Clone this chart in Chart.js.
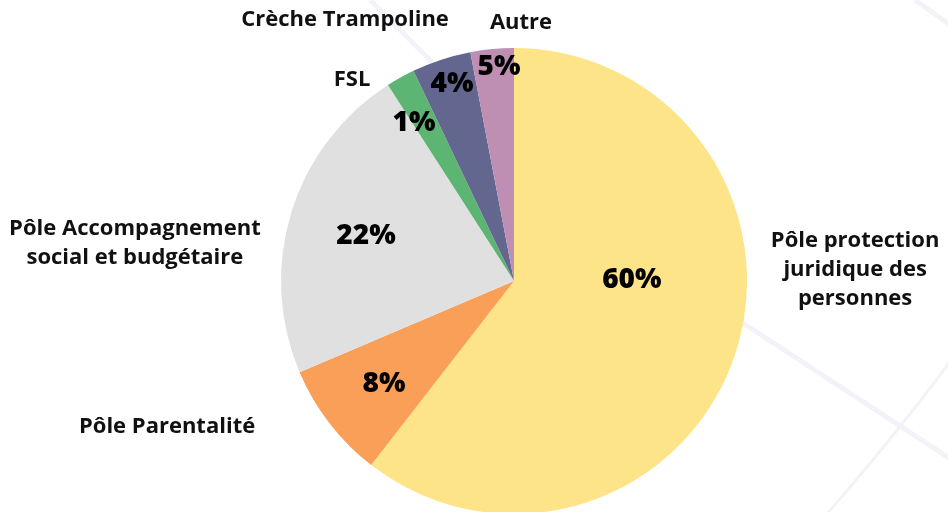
<!DOCTYPE html>
<html lang="fr">
<head>
<meta charset="utf-8">
<title>Répartition par pôle</title>
<script src="https://cdn.jsdelivr.net/npm/chart.js@4.4.1/dist/chart.umd.min.js"></script>
<style>
  html, body { margin: 0; padding: 0; background: #ffffff; }
  #wrap { width: 948px; height: 512px; position: relative; }
</style>
</head>
<body>
<div id="wrap"><canvas id="pie-chart" width="948" height="512"></canvas></div>
<script>
const categories = [
  ['Pôle protection', 'juridique des', 'personnes'],
  ['Pôle Parentalité'],
  ['Pôle Accompagnement', 'social et budgétaire'],
  ['FSL'],
  ['Crèche Trampoline'],
  ['Autre'],
];
// slice sizes (share of the circle, %)
const sliceValues = [60.5, 8.1, 22.3, 2.0, 4.1, 3.0];
// percentages printed on the slices
const percentLabels = ['60%', '8%', '22%', '1%', '4%', '5%'];
const sliceColors = ['#FDE488', '#F99F57', '#E0E0E0', '#5DB574', '#63668F', '#BF8FB3'];

// label anchors, in units of the pie radius from its centre
const outerLabelPos = [[1.464, -0.047], [-1.489, 0.627], [-1.627, -0.163], [-0.695, -0.863], [-0.725, -1.120], [0.030, -1.107]];
const innerLabelPos = [[0.506, -0.004], [-0.558, 0.442], [-0.635, -0.193], [-0.429, -0.678], [-0.266, -0.846], [-0.064, -0.918]];

const backgroundLines = {
  id: 'backgroundLines',
  beforeDraw(chart) {
    const { ctx } = chart;
    ctx.save();
    ctx.strokeStyle = '#F3F2F8';
    ctx.lineWidth = 5;
    ctx.beginPath();
    ctx.moveTo(370, 0);
    ctx.lineTo(520, 150);
    ctx.moveTo(700, 295);
    ctx.lineTo(960, 465);
    ctx.moveTo(915, 0);
    ctx.lineTo(960, 32);
    ctx.stroke();
    ctx.beginPath();
    ctx.lineWidth = 3;
    ctx.moveTo(826, 515);
    ctx.quadraticCurveTo(900, 430, 955, 355);
    ctx.stroke();
    ctx.restore();
  },
};

const pieLabels = {
  id: 'pieLabels',
  afterDatasetsDraw(chart) {
    const { ctx } = chart;
    const arc = chart.getDatasetMeta(0).data[0];
    const cx = arc.x;
    const cy = arc.y;
    const r = arc.outerRadius;
    ctx.save();
    ctx.fillStyle = '#111111';
    ctx.textAlign = 'center';
    ctx.textBaseline = 'middle';

    ctx.font = 'bold 22px "Open Sans"';
    const lineHeight = 29;
    categories.forEach((lines, i) => {
      const x = cx + outerLabelPos[i][0] * r;
      const y = cy + outerLabelPos[i][1] * r - ((lines.length - 1) * lineHeight) / 2;
      lines.forEach((line, j) => ctx.fillText(line, x, y + j * lineHeight));
    });

    ctx.fillStyle = '#000000';
    ctx.font = '800 28px "Open Sans"';
    percentLabels.forEach((text, i) => {
      ctx.fillText(text, cx + innerLabelPos[i][0] * r, cy + innerLabelPos[i][1] * r);
    });
    ctx.restore();
  },
};

const init = () => {
  const ctx = document.getElementById('pie-chart');
  new Chart(ctx, {
    type: 'pie',
    data: {
      labels: categories.map((lines) => lines.join(' ')),
      datasets: [{
        data: sliceValues,
        backgroundColor: sliceColors,
        borderWidth: 0,
        clip: false,
      }],
    },
    options: {
      responsive: false,
      animation: false,
      radius: 233,
      layout: { padding: { left: 80, right: 0, top: 50, bottom: 0 } },
      plugins: {
        legend: { display: false },
        tooltip: { enabled: false },
      },
    },
    plugins: [backgroundLines, pieLabels],
  });
};

window.addEventListener('DOMContentLoaded', init);
</script>
</body>
</html>
